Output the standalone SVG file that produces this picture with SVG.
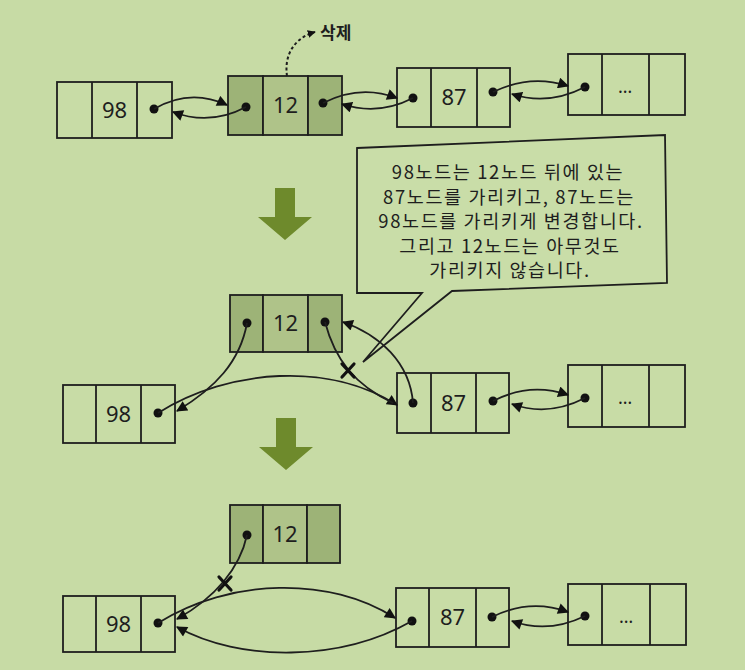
<svg xmlns="http://www.w3.org/2000/svg" width="745" height="670" viewBox="0 0 745 670">
<defs>
<marker id="ah" viewBox="0 0 10 10" refX="9" refY="5" markerWidth="12" markerHeight="11" orient="auto" markerUnits="userSpaceOnUse">
<path d="M0,0 L10,5 L0,10 z" fill="#111"/>
</marker>
<marker id="ahs" viewBox="0 0 10 10" refX="9" refY="5" markerWidth="8" markerHeight="8" orient="auto" markerUnits="userSpaceOnUse">
<path d="M0,0 L10,5 L0,10 z" fill="#111"/>
</marker>
</defs>
<style>
.cell{fill:#c8dca6;stroke:#1e1e1e;stroke-width:1.8}
.dk{fill:#9db377;stroke:#1e1e1e;stroke-width:1.8}
.md{fill:#afc389;stroke:#1e1e1e;stroke-width:1.8}
.dv{stroke:#1e1e1e;stroke-width:1.8}
.num{font-family:"Noto Sans","Noto Sans CJK KR",sans-serif;font-size:22px;fill:#1e1e1e;text-anchor:middle}
.dot{fill:#111}
.con{fill:none;stroke:#1e1e1e;stroke-width:1.8}
.big{fill:#6e8a2c}
.note{font-family:"Noto Sans CJK KR","Noto Sans",sans-serif;font-size:18.5px;letter-spacing:1.6px;fill:#1e1e1e;text-anchor:middle}
.x{stroke:#111;stroke-width:3.2;stroke-linecap:round}
</style>
<rect width="745" height="670" fill="#c7dba5"/>

<!-- top row -->
<g id="top98">
<rect class="cell" x="57" y="82" width="115" height="56"/>
<line class="dv" x1="92" y1="82" x2="92" y2="138"/><line class="dv" x1="137" y1="82" x2="137" y2="138"/>
<text class="num" x="114.5" y="118">98</text>
<circle class="dot" cx="154" cy="109" r="4.5"/>
</g>
<g id="top12">
<rect class="dk" x="228" y="76" width="35" height="59"/>
<rect class="md" x="263" y="76" width="45" height="59"/>
<rect class="dk" x="308" y="76" width="34" height="59"/>
<text class="num" x="285.5" y="113">12</text>
<circle class="dot" cx="246" cy="107" r="4.5"/>
<circle class="dot" cx="323" cy="103" r="4.5"/>
</g>
<g id="top87">
<rect class="cell" x="397" y="68" width="113" height="59"/>
<line class="dv" x1="431" y1="68" x2="431" y2="127"/><line class="dv" x1="477" y1="68" x2="477" y2="127"/>
<text class="num" x="454" y="105">87</text>
<circle class="dot" cx="413" cy="98" r="4.5"/>
<circle class="dot" cx="493" cy="92" r="4.5"/>
</g>
<g id="topdots">
<rect class="cell" x="568" y="54" width="117" height="61"/>
<line class="dv" x1="602" y1="54" x2="602" y2="115"/><line class="dv" x1="649" y1="54" x2="649" y2="115"/>
<text class="num" x="625" y="93" style="font-size:18px">…</text>
<circle class="dot" cx="585" cy="87" r="4.5"/>
</g>

<!-- middle row -->
<g id="mid12">
<rect class="dk" x="230" y="295" width="33" height="57"/>
<rect class="md" x="263" y="295" width="45" height="57"/>
<rect class="dk" x="308" y="295" width="34" height="57"/>
<text class="num" x="285.5" y="331">12</text>
<circle class="dot" cx="247" cy="323" r="4.5"/>
<circle class="dot" cx="325" cy="322" r="4.5"/>
</g>
<g id="mid98">
<rect class="cell" x="63" y="385" width="112" height="58"/>
<line class="dv" x1="96" y1="385" x2="96" y2="443"/><line class="dv" x1="141" y1="385" x2="141" y2="443"/>
<text class="num" x="118.5" y="422">98</text>
<circle class="dot" cx="158" cy="413" r="4.5"/>
</g>
<g id="mid87">
<rect class="cell" x="397" y="373" width="112" height="60"/>
<line class="dv" x1="431" y1="373" x2="431" y2="433"/><line class="dv" x1="476" y1="373" x2="476" y2="433"/>
<text class="num" x="453.5" y="411">87</text>
<circle class="dot" cx="413" cy="403" r="4.5"/>
<circle class="dot" cx="493" cy="401" r="4.5"/>
</g>
<g id="middots">
<rect class="cell" x="568" y="365" width="117" height="62"/>
<line class="dv" x1="602" y1="365" x2="602" y2="427"/><line class="dv" x1="649" y1="365" x2="649" y2="427"/>
<text class="num" x="625" y="404" style="font-size:18px">…</text>
<circle class="dot" cx="585" cy="398" r="4.5"/>
</g>

<!-- bottom row -->
<g id="bot12">
<rect class="dk" x="230" y="505" width="33" height="58"/>
<rect class="md" x="263" y="505" width="44" height="58"/>
<rect class="dk" x="307" y="505" width="33" height="58"/>
<text class="num" x="285" y="542">12</text>
<circle class="dot" cx="247" cy="535" r="4.5"/>
</g>
<g id="bot98">
<rect class="cell" x="63" y="596" width="112" height="56"/>
<line class="dv" x1="96" y1="596" x2="96" y2="652"/><line class="dv" x1="141" y1="596" x2="141" y2="652"/>
<text class="num" x="118.5" y="632">98</text>
<circle class="dot" cx="158" cy="623" r="4.5"/>
</g>
<g id="bot87">
<rect class="cell" x="396" y="588" width="113" height="59"/>
<line class="dv" x1="429" y1="588" x2="429" y2="647"/><line class="dv" x1="476" y1="588" x2="476" y2="647"/>
<text class="num" x="452.5" y="625">87</text>
<circle class="dot" cx="412" cy="621" r="4.5"/>
<circle class="dot" cx="492" cy="617" r="4.5"/>
</g>
<g id="botdots">
<rect class="cell" x="568" y="584" width="118" height="61"/>
<line class="dv" x1="602" y1="584" x2="602" y2="645"/><line class="dv" x1="650" y1="584" x2="650" y2="645"/>
<text class="num" x="626" y="623" style="font-size:18px">…</text>
<circle class="dot" cx="585" cy="616" r="4.5"/>
</g>

<!-- callout -->
<g id="callout">
<polygon points="357,148 665,135 667,283 452,291 363,362 422,293 357,293" fill="#c9dda8" stroke="#1e1e1e" stroke-width="1.8" stroke-linejoin="miter"/>
<text class="note" x="508" y="179">98노드는 12노드 뒤에 있는</text>
<text class="note" x="509" y="203.5">87노드를 가리키고, 87노드는</text>
<text class="note" x="511" y="228">98노드를 가리키게 변경합니다.</text>
<text class="note" x="510" y="252.5">그리고 12노드는 아무것도</text>
<text class="note" x="510" y="277">가리키지 않습니다.</text>
</g>

<!-- delete label -->
<g id="delete">
<path d="M287,76 C284,55 294,38 315,32" fill="none" stroke="#1e1e1e" stroke-width="2" stroke-dasharray="3,2.5" marker-end="url(#ahs)"/>
<text x="320" y="39" font-family="Noto Sans CJK KR, sans-serif" font-size="17" font-weight="bold" fill="#1e1e1e">삭제</text>
</g>

<!-- big arrows -->
<g id="bigarrow1"><polygon class="big" points="275,188 295,188 295,217 312,217 285,240 258,217 275,217"/></g>
<g id="bigarrow2"><polygon class="big" points="276,418 296,418 296,447 313,447 286,470 259,447 276,447"/></g>

<!-- connectors -->
<g id="connectors">
<path class="con" d="M154,109 Q190,88 227,105" marker-end="url(#ah)"/>
<path class="con" d="M246,107 Q210,126 173,112" marker-end="url(#ah)"/>
<path class="con" d="M323,103 Q360,84 397,98" marker-end="url(#ah)"/>
<path class="con" d="M413,98 Q378,116 342,104" marker-end="url(#ah)"/>
<path class="con" d="M493,92 Q530,74 568,86" marker-end="url(#ah)"/>
<path class="con" d="M585,87 Q548,106 512,94" marker-end="url(#ah)"/>

<path class="con" d="M247,323 C240,362 215,388 177,411" marker-end="url(#ah)"/>
<path class="con" d="M158,413 C230,368 330,362 397,405" marker-end="url(#ah)"/>
<path class="con" d="M325,322 C335,360 355,385 393,403"/>
<path class="con" d="M413,403 C410,363 380,335 343,322" marker-end="url(#ah)"/>
<path class="con" d="M493,401 Q530,382 568,395" marker-end="url(#ah)"/>
<path class="con" d="M585,398 Q548,417 512,404" marker-end="url(#ah)"/>

<path class="con" d="M247,535 C240,568 215,598 177,619" marker-end="url(#ah)"/>
<path class="con" d="M158,623 C230,578 330,576 395,618" marker-end="url(#ah)"/>
<path class="con" d="M412,621 C340,662 240,662 177,627" marker-end="url(#ah)"/>
<path class="con" d="M492,617 Q530,598 568,612" marker-end="url(#ah)"/>
<path class="con" d="M585,616 Q548,634 512,621" marker-end="url(#ah)"/>

<line class="x" x1="342" y1="364" x2="354" y2="377"/><line class="x" x1="354" y1="364" x2="342" y2="377"/>
<line class="x" x1="219" y1="577" x2="231" y2="590"/><line class="x" x1="231" y1="577" x2="219" y2="590"/>
</g>
</svg>
